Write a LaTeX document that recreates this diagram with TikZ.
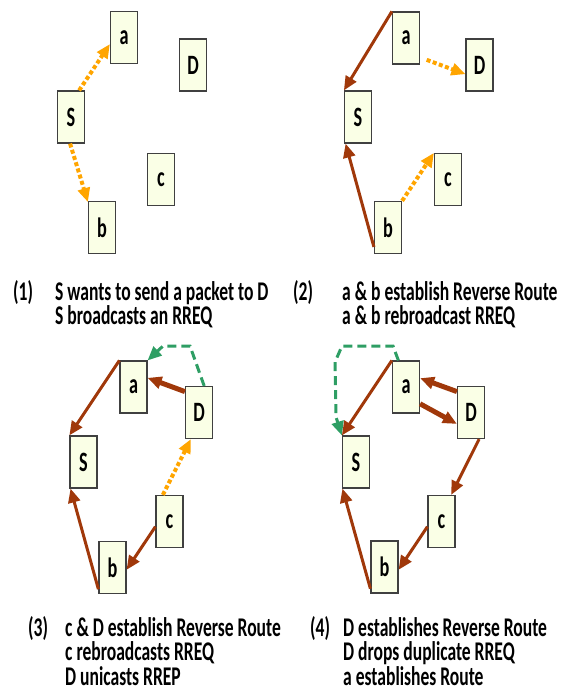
\documentclass[tikz,border=0pt]{standalone}
\usepackage{fontspec}
\setmainfont{Carlito}[FakeStretch=0.65]
\usetikzlibrary{arrows.meta}
\definecolor{boxfill}{RGB}{250,255,230}
\definecolor{rrep}{RGB}{160,56,10}
\definecolor{rreq}{RGB}{255,165,0}
\definecolor{dupl}{RGB}{46,158,100}

\begin{document}
\begin{tikzpicture}[x=1pt, y=-1pt,
        box/.style = {draw=black!75, line width=1.2pt, fill=boxfill, minimum width=27pt,
            minimum height=52pt, inner sep=0pt, font=\fontsize{28}{28}\selectfont\bfseries},
        step text/.style = {inner sep=0pt, anchor=base west, align=left,
            font=\fontsize{27}{24.5}\selectfont\bfseries},
        route/.style = {draw=rrep, line width=3pt, -{Triangle[length=14pt,width=12pt]}},
        heavy/.style = {route, line width=5pt},
        bcast/.style = {draw=rreq, line width=4pt, dash pattern=on 4pt off 2.5pt,
            -{Triangle[length=14pt,width=12pt]}},
        dupe/.style = {draw=dupl, line width=3pt, dash pattern=on 9pt off 5pt,
            -{Triangle[length=14pt,width=12pt]}}]
                \useasboundingbox (0,0) rectangle (561,698);

                \node[box] at (124,37.5) (a1) {a};
                \node[box] at (193,65) (D1) {D};
                \node[box] at (71,117) (S1) {S};
                \node[box] at (161,179.5) (c1) {c};
                \node[box] at (102,227.5) (b1) {b};

                \draw[bcast] (S1.73) -- (a1.205);
                \draw[bcast] (S1.268) -- (b1.119);

                \node[box] at (406,38) (a2) {a};
                \node[box] at (479.5,65) (D2) {D};
                \node[box] at (358,117) (S2) {S};
                \node[box] at (448,179.5) (c2) {c};
                \node[box] at (388,227.5) (b2) {b};

                \draw[route] (a2.north west) -- (S2.north west);
                \draw[route] (b2.234) -- (S2.245);
                \draw[bcast, shorten <=7pt] (a2.-54) -- (D2.213);
                \draw[bcast] (b2.north east) -- (c2.north west);

                \node[box] at (133.5,387) (a3) {a};
                \node[box] at (199,412.5) (D3) {D};
                \node[box] at (83.5,462) (S3) {S};
                \node[box] at (169.5,521.5) (c3) {c};
                \node[box] at (112.5,567.5) (b3) {b};

                \draw[route] (a3.north west) -- (S3.north west);
                \draw[heavy] (D3.124) -- (a3.33);
                \draw[dupe] (D3.79) -- (190,346) -- (163,346) -- (a3.north east);
                \draw[bcast] (c3.104) -- (D3.253);
                \draw[route] (c3.200) -- (b3.-9);
                \draw[route] (b3.237) -- (S3.244);

                \node[box] at (406,387) (a4) {a};
                \node[box] at (471,412.5) (D4) {D};
                \node[box] at (356,462) (S4) {S};
                \node[box] at (441.5,521.5) (c4) {c};
                \node[box] at (384.5,567) (b4) {b};

                \draw[dupe] (a4.106) -- (393,346) -- (342,346) -- (335,362) -- (336,417) -- (S4.north west);
                \draw[route] (a4.north west) -- (S4.north west);
                \draw[heavy] (D4.124) -- (a4.32);
                \draw[heavy] (a4.-50) -- (D4.219);
                \draw[route] (D4.287) -- (c4.70);
                \draw[route] (c4.200) -- (b4.-11);
                \draw[route] (b4.237) -- (S4.243);

                \node[step text] at (13,300) (n1) {(1)};
                \node[step text] at (55,324.5) (t1) {S wants to send a packet to D\\S broadcasts an RREQ};
                \node[step text] at (293,300) (n2) {(2)};
                \node[step text] at (342,324.5) (t2) {a \& b establish Reverse Route\\a \& b rebroadcast RREQ};
                \node[step text] at (28,636) (n3) {(3)};
                \node[step text] at (65,685) (t3) {c \& D establish Reverse Route\\c rebroadcasts RREQ\\D unicasts RREP};
                \node[step text] at (310,636) (n4) {(4)};
                \node[step text] at (343,685) (t4) {D establishes Reverse Route\\D drops duplicate RREQ\\a establishes Route};
            \end{tikzpicture}
\end{document}
